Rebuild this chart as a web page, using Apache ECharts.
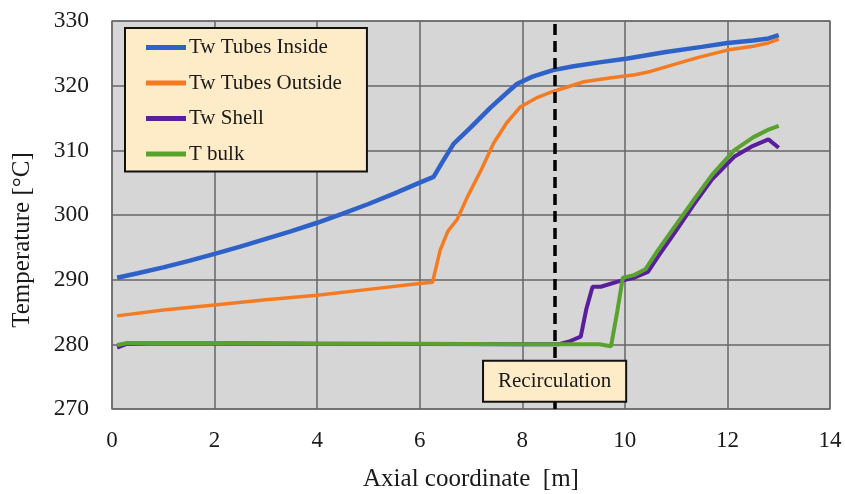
<!DOCTYPE html>
<html>
<head>
<meta charset="utf-8">
<script src="https://cdn.jsdelivr.net/npm/echarts@6/dist/echarts.min.js"></script>
<style>
  html, body { margin: 0; padding: 0; background: #fff; }
  #main { width: 845px; height: 494px; }
</style>
</head>
<body>
<div id="main"></div>
<script>
var seriesNames = ['Tw Tubes Inside', 'Tw Tubes Outside', 'Tw Shell', 'T bulk'];

var insideX = [0.1, 0.5, 1, 1.5, 2, 2.5, 3, 3.5, 4, 4.5, 5, 5.5, 6, 6.27, 6.45, 6.66, 7, 7.38, 7.7, 7.9, 8.2, 8.6, 9, 9.5, 10.05, 10.8, 11.5, 12, 12.5, 12.8, 13.0];
var insideY = [290.3, 291.0, 291.9, 292.9, 294.0, 295.1, 296.3, 297.5, 298.8, 300.2, 301.7, 303.3, 305.0, 305.9, 308.3, 311.0, 313.6, 316.6, 318.9, 320.3, 321.4, 322.4, 323.0, 323.6, 324.2, 325.2, 326.0, 326.6, 327.0, 327.3, 327.8];

var outsideX = [0.1, 1, 2, 3, 4, 5, 6, 6.25, 6.4, 6.55, 6.73, 6.93, 7.2, 7.44, 7.7, 7.96, 8.3, 8.6, 9.2, 9.7, 10.2, 10.5, 10.8, 11.4, 12, 12.5, 12.8, 13.0];
var outsideY = [284.4, 285.3, 286.1, 286.9, 287.6, 288.5, 289.4, 289.6, 294.6, 297.5, 299.3, 302.8, 307.0, 311.1, 314.3, 316.7, 318.2, 319.1, 320.6, 321.2, 321.7, 322.2, 322.9, 324.3, 325.5, 326.1, 326.6, 327.2];

var shellX = [0.1, 0.3, 1, 4, 8, 8.7, 8.9, 9.14, 9.25, 9.37, 9.53, 9.86, 10.18, 10.45, 10.65, 11, 11.35, 11.7, 12.13, 12.5, 12.8, 13.0];
var shellY = [279.5, 280.1, 280.2, 280.1, 280.0, 280.0, 280.4, 281.2, 285.5, 288.9, 288.9, 289.7, 290.3, 291.2, 293.6, 297.6, 301.7, 305.5, 309.0, 310.7, 311.7, 310.4];

var bulkX = [0.1, 0.3, 1, 2, 4, 6, 8, 9, 9.5, 9.73, 9.85, 9.96, 10.18, 10.4, 10.65, 11, 11.35, 11.7, 12.13, 12.5, 12.8, 13.0];
var bulkY = [279.9, 280.2, 280.2, 280.2, 280.1, 280.1, 280.0, 280.0, 280.0, 279.7, 285.0, 290.3, 290.7, 291.6, 294.6, 298.5, 302.4, 306.2, 310.0, 312.0, 313.2, 313.8];

var recircX = 8.63;
var recircLabelY = 274.3;

var colors = ['#2f62c9', '#f57b22', '#5a1d9c', '#5aa22e'];
var serif = '"Liberation Serif", "DejaVu Serif", serif';

function pairs(xs, ys) {
  return xs.map(function (x, i) { return [x, ys[i]]; });
}

var chartDom = document.getElementById('main');
var myChart = echarts.init(chartDom, null, { renderer: 'canvas' });
var option;

option = {
  animation: false,
  backgroundColor: '#ffffff',
  textStyle: { fontFamily: serif, color: '#1a1a1a' },
  grid: {
    left: 112,
    right: 15,
    top: 21,
    bottom: 85,
    containLabel: false,
    outerBoundsMode: 'none',
    show: true,
    backgroundColor: '#d6d6d6',
    borderColor: '#858585',
    borderWidth: 1.5
  },
  legend: {
    data: seriesNames,
    orient: 'vertical',
    left: 125,
    top: 28,
    icon: 'rect',
    itemWidth: 40,
    itemHeight: 5,
    itemGap: 14.5,
    padding: [9, 25, 7, 21],
    backgroundColor: '#feebc8',
    borderColor: '#111',
    borderWidth: 2,
    textStyle: { fontFamily: serif, fontSize: 21, color: '#1a1a1a', padding: [0, 0, 0, -2] }
  },
  xAxis: {
    type: 'value',
    min: 0,
    max: 14,
    interval: 2,
    name: 'Axial coordinate  [m]',
    nameLocation: 'middle',
    nameGap: 58,
    nameTextStyle: { fontFamily: serif, fontSize: 25, color: '#1a1a1a' },
    axisLine: { show: false },
    axisTick: { show: false },
    axisLabel: { fontFamily: serif, fontSize: 23, color: '#1a1a1a', margin: 20 },
    splitLine: { show: true, lineStyle: { color: '#666', width: 1.5 } }
  },
  yAxis: {
    type: 'value',
    min: 270,
    max: 330,
    interval: 10,
    name: 'Temperature [°C]',
    nameLocation: 'middle',
    nameGap: 77,
    nameTextStyle: { fontFamily: serif, fontSize: 25, color: '#1a1a1a', padding: [0, 50, 0, 0] },
    axisLine: { show: false },
    axisTick: { show: false },
    axisLabel: { fontFamily: serif, fontSize: 23.5, color: '#1a1a1a', margin: 23 },
    splitLine: { show: true, lineStyle: { color: '#666', width: 1.5 } }
  },
  series: [
    {
      name: seriesNames[0],
      type: 'line',
      data: pairs(insideX, insideY),
      showSymbol: false,
      color: colors[0],
      lineStyle: { width: 4.5 },
      z: 3,
      markLine: {
        silent: true,
        symbol: 'none',
        label: { show: false },
        lineStyle: { color: '#000', type: [11, 6], width: 3.5 },
        data: [{ xAxis: recircX }]
      }
    },
    {
      name: seriesNames[1],
      type: 'line',
      data: pairs(outsideX, outsideY),
      showSymbol: false,
      color: colors[1],
      lineStyle: { width: 3.5 },
      z: 3
    },
    {
      name: seriesNames[2],
      type: 'line',
      data: pairs(shellX, shellY),
      showSymbol: false,
      color: colors[2],
      lineStyle: { width: 4 },
      z: 3
    },
    {
      name: seriesNames[3],
      type: 'line',
      data: pairs(bulkX, bulkY),
      showSymbol: false,
      color: colors[3],
      lineStyle: { width: 4 },
      z: 4,
      markPoint: {
        silent: true,
        symbol: 'rect',
        symbolSize: 0,
        data: [{ coord: [recircX, recircLabelY] }],
        label: {
          show: true,
          position: 'inside',
          formatter: 'Recirculation',
          fontFamily: serif,
          fontSize: 21,
          color: '#1a1a1a',
          backgroundColor: '#feebc8',
          borderColor: '#111',
          borderWidth: 2,
          padding: [9, 14, 9, 14]
        }
      }
    }
  ]
};

option && myChart.setOption(option);
</script>
</body>
</html>
